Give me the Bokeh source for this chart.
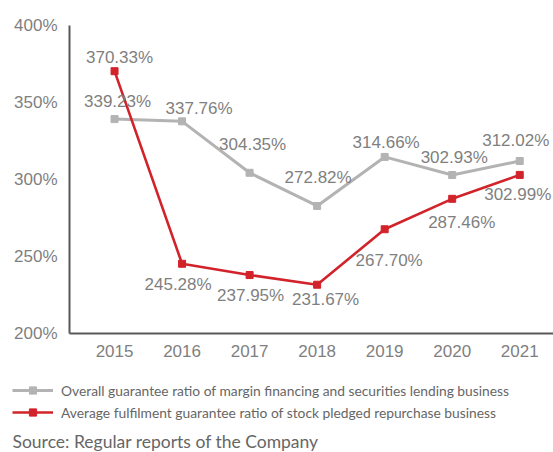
from bokeh.plotting import figure
from bokeh.layouts import column
from bokeh.models import Range1d, ColumnDataSource, Legend, LegendItem, Label, FixedTicker, CustomJSTickFormatter
from bokeh.embed import file_html
from bokeh.resources import INLINE

years = ["2015", "2016", "2017", "2018", "2019", "2020", "2021"]
margin_ratio = [339.23, 337.76, 304.35, 282.82, 314.66, 302.93, 312.02]
margin_labels = ["339.23%", "337.76%", "304.35%", "272.82%", "314.66%", "302.93%", "312.02%"]
pledge_ratio = [370.33, 245.28, 237.95, 231.67, 267.70, 287.46, 302.99]
pledge_labels = ["370.33%", "245.28%", "237.95%", "231.67%", "267.70%", "287.46%", "302.99%"]
y_ticks = [200, 250, 300, 350, 400]
series_names = ["Overall guarantee ratio of margin financing and securities lending business",
                "Average fulfilment guarantee ratio of stock pledged repurchase business"]
source_note = "Source: Regular reports of the Company"

GRAY = "#b3b3b3"
RED = "#d2232a"
TXT = "#7f7f7f"

x = list(range(len(years)))

p = figure(width=553, height=370, output_backend="svg", toolbar_location=None,
           x_range=Range1d(-0.667, 6.5), y_range=Range1d(200, 400),
           min_border_left=69, min_border_right=0, min_border_top=25, min_border_bottom=37)
p.frame_align = False
p.outline_line_color = None
p.xgrid.grid_line_color = None
p.ygrid.grid_line_color = None

p.xaxis.ticker = FixedTicker(ticks=x)
p.xaxis.formatter = CustomJSTickFormatter(args=dict(labels=years), code="return labels[Math.round(tick)] || '';")
p.yaxis.ticker = FixedTicker(ticks=y_ticks)
p.yaxis.formatter = CustomJSTickFormatter(code="return tick.toFixed(0) + '%';")
for ax in (p.xaxis[0], p.yaxis[0]):
    ax.axis_line_color = "#595959"
    ax.axis_line_width = 2
    ax.major_tick_line_color = None
    ax.minor_tick_line_color = None
    ax.major_tick_out = 0
    ax.major_tick_in = 0
    ax.major_label_text_font = "Liberation Sans"
    ax.major_label_text_font_size = "17px"
    ax.major_label_text_color = TXT
p.xaxis.major_label_standoff = 11
p.yaxis.major_label_standoff = 12

# label placement offsets (pixels) relative to each point
src_m = ColumnDataSource(dict(x=x, y=margin_ratio, t=margin_labels,
                              dx=[3, 17, 3, 1, 1.5, 2, -4],
                              dy=[-17.5, -13, -28.5, -28.5, -14.5, -17.5, -20]))
src_p = ColumnDataSource(dict(x=x, y=pledge_ratio, t=pledge_labels,
                              dx=[5, -4, 1, 8.5, 4.5, 9.5, -2],
                              dy=[-13.5, 21, 20.5, 15, 31, 24, 19.5]))

p.line("x", "y", source=src_m, line_color=GRAY, line_width=3)
p.scatter("x", "y", source=src_m, marker="square", size=7, color=GRAY)
p.line("x", "y", source=src_p, line_color=RED, line_width=2.6)
p.scatter("x", "y", source=src_p, marker="square", size=7, color=RED)

for src in (src_m, src_p):
    p.text("x", "y", text="t", source=src, x_offset="dx", y_offset="dy",
           text_font_size="17px", text_color=TXT, text_align="center",
           text_baseline="middle", text_font={"value": "Liberation Sans"})

# legend + source panel
q = figure(width=553, height=82, output_backend="svg", toolbar_location=None,
           x_range=Range1d(100, 101), y_range=Range1d(100, 101),
           x_axis_location=None, y_axis_location=None,
           min_border_left=0, min_border_right=0, min_border_top=0, min_border_bottom=0)
q.frame_align = False
q.outline_line_color = None
q.xgrid.grid_line_color = None
q.ygrid.grid_line_color = None

# legend key renderers (same series data, drawn outside this panel's visible range)
g1 = q.line(x, margin_ratio, line_color=GRAY, line_width=3)
g2 = q.scatter(x, margin_ratio, marker="square", size=7, color=GRAY)
g3 = q.line(x, pledge_ratio, line_color=RED, line_width=2.6)
g4 = q.scatter(x, pledge_ratio, marker="square", size=7, color=RED)

legend = Legend(items=[LegendItem(label=series_names[0], renderers=[g1, g2]),
                       LegendItem(label=series_names[1], renderers=[g3, g4])],
                location=(12, 31), orientation="vertical", glyph_width=41, glyph_height=18,
                label_text_font="Lato", label_text_font_size="13.8px", label_text_color="#666666",
                label_standoff=8, spacing=4, padding=0, margin=0, border_line_color=None,
                background_fill_alpha=0, label_height=18)
q.add_layout(legend, "center")

q.add_layout(Label(x=12, y=11, x_units="screen", y_units="screen", text=source_note,
                   text_font="Lato", text_font_size="17.5px", text_color="#666666",
                   text_baseline="middle"))

open("out.html", "w").write(file_html(column(p, q, spacing=0), INLINE))
